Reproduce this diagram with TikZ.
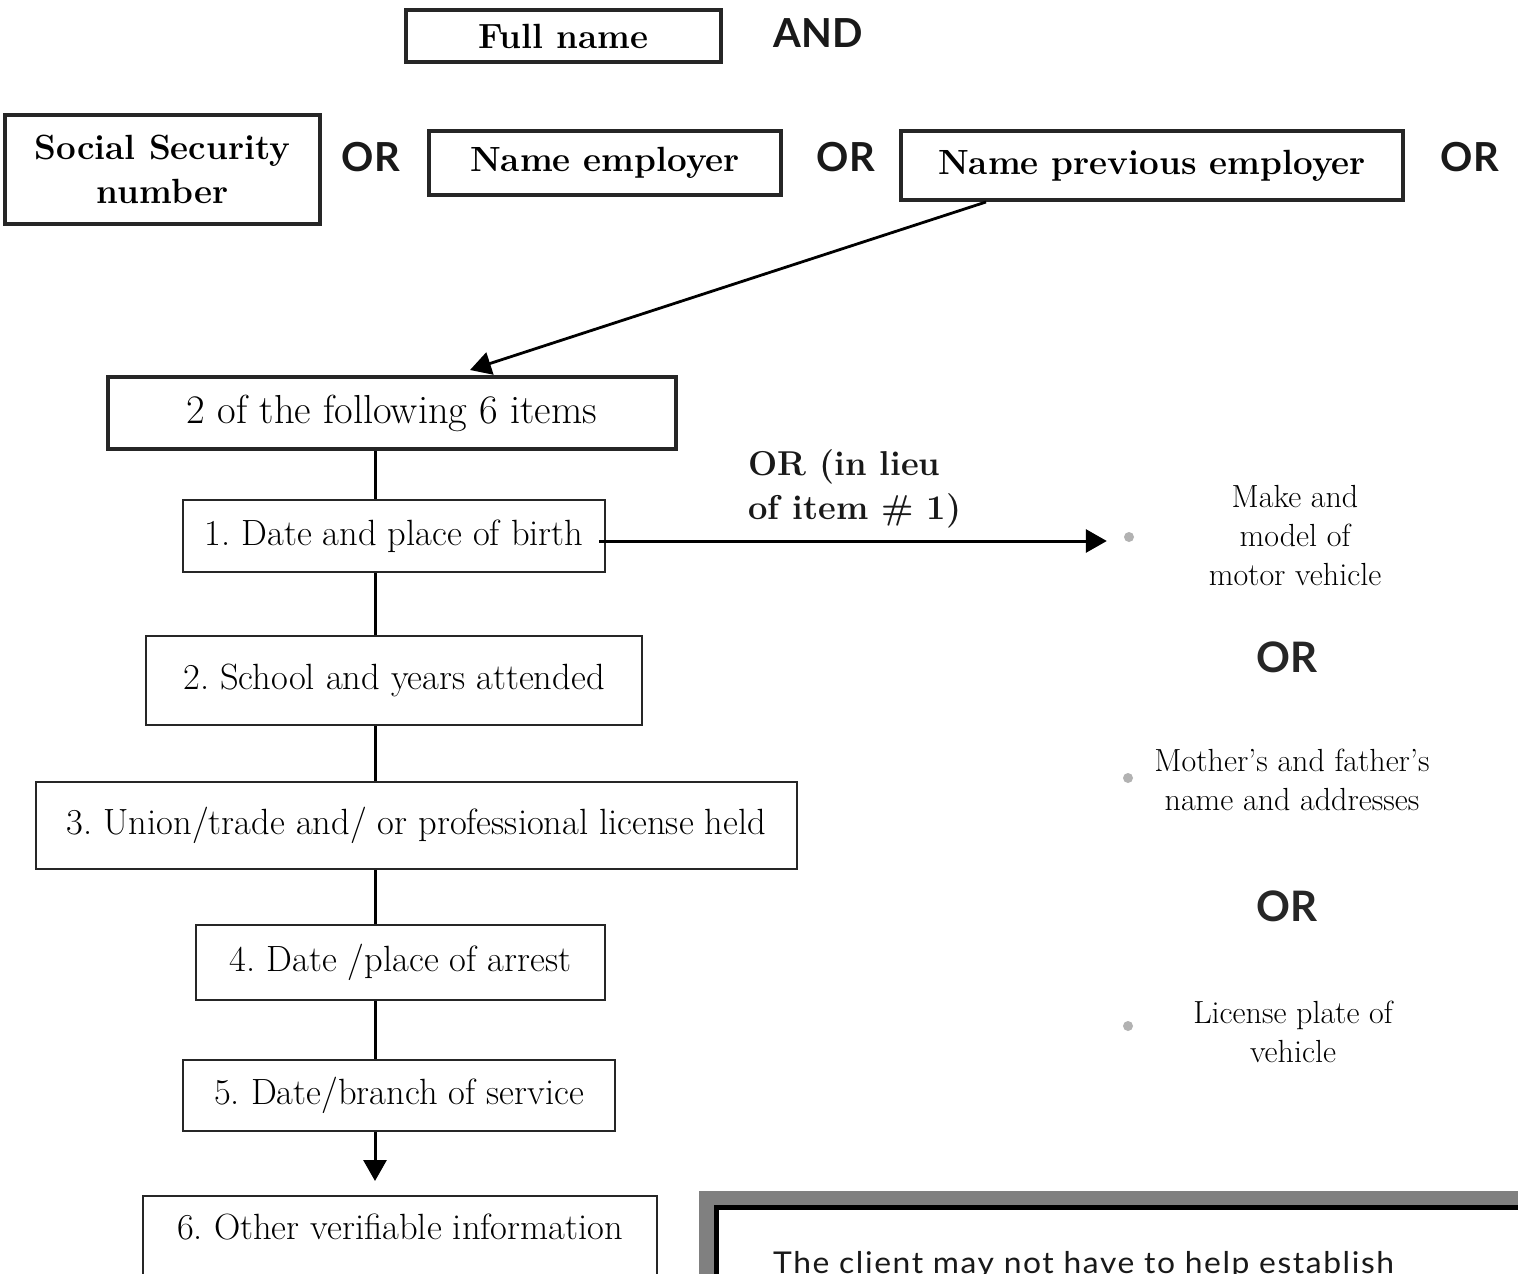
\documentclass[tikz,border=0pt]{standalone}
\usepackage{fontspec}
\newfontfamily\lato{Lato}
\frenchspacing
\usetikzlibrary{arrows.meta}
\tikzset{
  thickbox/.style={draw=black!85, line width=4pt, rectangle, inner sep=0pt, font=\fontsize{35}{40}\selectfont\bfseries\addfontfeature{LetterSpace=5}},
  itembox/.style={draw=black!85, line width=2pt, rectangle, inner sep=0pt, font=\fontsize{36.5}{40}\selectfont, text=black},
  twobox/.style={draw=black!85, line width=4pt, rectangle, inner sep=0pt, font=\fontsize{40.5}{44}\selectfont, text=black},
  conn/.style={draw=black, line width=3pt},
  arr/.style={conn, -{Triangle[length=21pt,width=23pt]}},
  orlbl/.style={font=\lato\fontsize{40}{44}\selectfont\bfseries, text=black!90, inner sep=0pt},
  orright/.style={font=\lato\fontsize{42}{46}\selectfont\bfseries, text=black!85, inner sep=0pt},
  optxt/.style={font=\fontsize{32}{39}\selectfont, align=center, inner sep=0pt, text=black},
  dot/.style={circle, fill=black!30, inner sep=0pt, minimum size=10pt},
}
\begin{document}
\begin{tikzpicture}[x=1pt,y=-1pt]
\clip (0,0) rectangle (1518,1274);
\useasboundingbox (0,0) rectangle (1518,1274);
\fill[white] (0,0) rectangle (1518,1274);

% top row
\node[thickbox, minimum width=315pt, minimum height=52pt] (full) at (563.5,36) {Full name};
\node[orlbl] (and) at (818,33) {AND};

\node[thickbox, minimum width=315pt, minimum height=109pt, align=center, font=\fontsize{35}{44}\selectfont\bfseries\addfontfeature{LetterSpace=3}] (ssn) at (162.5,169.5) {Social Security\\number};
\node[orlbl] (or1) at (371,157) {OR};
\node[thickbox, minimum width=352pt, minimum height=64pt] (emp) at (605,163) {Name employer};
\node[orlbl] (or2) at (846,157) {OR};
\node[thickbox, minimum width=502pt, minimum height=69pt] (prev) at (1152,165.5) {Name previous employer};
\node[orlbl] (or3) at (1470,157) {OR};

% left column
\coordinate (vx) at (375,0);
\coordinate (ax) at (986,0);
\coordinate (tx) at (470,0);
\node[twobox, minimum width=568pt, minimum height=72pt] (two) at (392,413) {2 of the following 6 items};
\node[itembox, minimum width=422pt, minimum height=72pt] (b1) at (394,536) {1. Date and place of birth};
\node[itembox, minimum width=496pt, minimum height=89pt] (b2) at (394,680.5) {2. School and years attended};
\node[itembox, minimum width=761pt, minimum height=87pt] (b3) at (416.5,825.5) {3. Union/trade and/ or professional license held};
\node[itembox, minimum width=409pt, minimum height=75pt] (b4) at (400.5,962.5) {4. Date /place of arrest};
\node[itembox, minimum width=432pt, minimum height=71pt] (b5) at (399,1095.5) {5. Date/branch of service};
\node[itembox, minimum width=514pt, minimum height=100pt, text depth=38pt, anchor=north] (b6) at (400,1195) {6. Other verifiable information};

\draw[arr, line width=2.8pt] (prev.south -| ax) -- ([yshift=5pt]two.north -| tx);
\draw[conn] (two.south -| vx) -- (b1.north -| vx);
\draw[conn] (b1.south -| vx) -- (b2.north -| vx);
\draw[conn] (b2.south -| vx) -- (b3.north -| vx);
\draw[conn] (b3.south -| vx) -- (b4.north -| vx);
\draw[conn] (b4.south -| vx) -- (b5.north -| vx);
\draw[arr] (b5.south -| vx) -- ([yshift=14pt]b6.north -| vx);

% right column
\node[dot] (d1) at (1129,537) {};
\node[dot] (d2) at (1128,778) {};
\node[dot] (d3) at (1128,1026) {};
\draw[arr] ([xshift=-7pt,yshift=-5pt]b1.east) -- ([xshift=-17pt,yshift=-4pt]d1.west);
\node[anchor=west, align=left, inner sep=0pt, font=\fontsize{34.5}{44}\selectfont\bfseries, text=black!90] (lieu) at (748,489) {OR (in lieu\\of item \# 1)};

\node[optxt] (o1) at (1295,536) {Make and\\model of\\motor vehicle};
\node[orright] (or4) at (1287,657) {OR};
\node[optxt] (o2) at (1292,780) {Mother's and father's\\name and addresses};
\node[orright] (or5) at (1287,906) {OR};
\node[optxt] (o3) at (1293,1032) {License plate of\\vehicle};

% bottom right note box
\fill[black!50] (699,1191) rectangle (1540,1300);
\draw[line width=5pt, fill=white] (716.5,1207.5) rectangle (1560,1320);
\node[anchor=base west, inner sep=0pt, font=\lato\fontsize{30}{34}\selectfont\addfontfeature{LetterSpace=5}, text=black!90] (note) at (773,1273) {\scalebox{1.06}[1]{The client may not have to help establish}};
\end{tikzpicture}
\end{document}
